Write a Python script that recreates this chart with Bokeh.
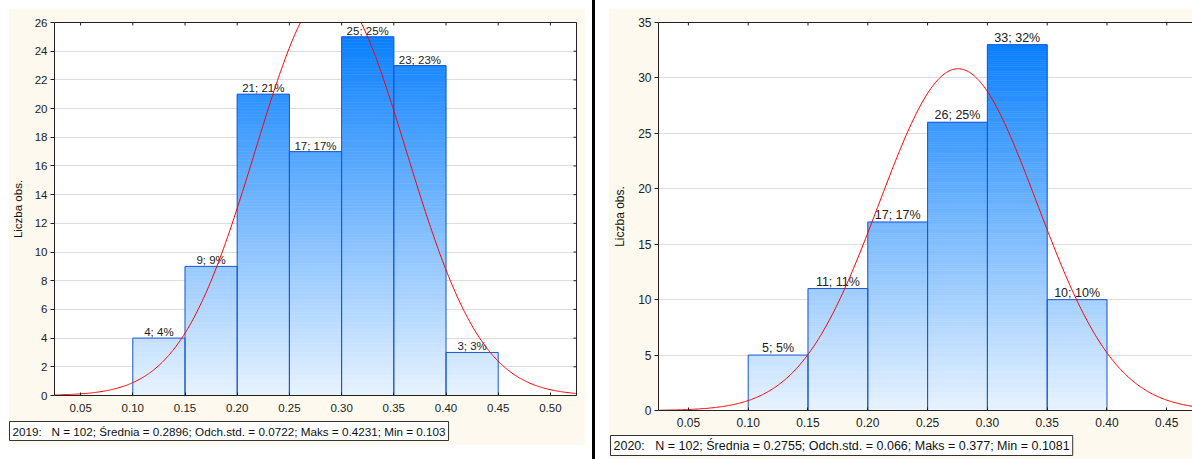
import numpy as np
from bokeh.plotting import figure
from bokeh.models import LinearAxis, FixedTicker, PrintfTickFormatter, Title, Range1d, Div
from bokeh.layouts import row
from bokeh.embed import file_html
from bokeh.resources import INLINE
from bokeh.core.properties import value

# ---------------- data ----------------
x_ticks = [0.05, 0.10, 0.15, 0.20, 0.25, 0.30, 0.35, 0.40, 0.45, 0.50]
bin_width = 0.05

edges_2019 = [0.10, 0.15, 0.20, 0.25, 0.30, 0.35, 0.40, 0.45]
counts_2019 = [4, 9, 21, 17, 25, 23, 3]
n_2019 = 102
mean_2019 = 0.2896
sd_2019 = 0.0722
y_ticks_2019 = [0, 2, 4, 6, 8, 10, 12, 14, 16, 18, 20, 22, 24, 26]
caption_2019 = "2019:\u00a0\u00a0\u00a0N = 102; Średnia = 0.2896; Odch.std. = 0.0722; Maks = 0.4231; Min = 0.103"

edges_2020 = [0.10, 0.15, 0.20, 0.25, 0.30, 0.35, 0.40]
counts_2020 = [5, 11, 17, 26, 33, 10]
n_2020 = 102
mean_2020 = 0.2755
sd_2020 = 0.066
y_ticks_2020 = [0, 5, 10, 15, 20, 25, 30, 35]
caption_2020 = "2020:\u00a0\u00a0\u00a0N = 102; Średnia = 0.2755; Odch.std. = 0.066; Maks = 0.377; Min = 0.1081"

y_label = "Liczba obs."

FONT = "Liberation Sans"
CREAM = "#fdf9ef"
AX = "#222222"
TOP_C = (10, 128, 255)
BOT_C = (232, 243, 255)


def grad_color(f):
    c = [round(b + (t - b) * f) for t, b in zip(TOP_C, BOT_C)]
    return "#%02x%02x%02x" % tuple(c)


def make_panel(edges, counts, n, mean, sd, y_ticks, caption, frame_w, frame_h,
               borders, x_end, y_end, right_axis, cap_offset, cap_standoff, cap_pad,
               x_standoff, margin, fs, fs_bar, fs_cap):
    p = figure(frame_width=frame_w, frame_height=frame_h, output_backend="svg",
               toolbar_location=None,
               x_range=Range1d(0.025, x_end), y_range=Range1d(0, y_end),
               min_border_left=borders[0], min_border_right=borders[1],
               min_border_top=borders[2], min_border_bottom=borders[3],
               x_axis_location=None, y_axis_location=None, margin=margin)
    p.background_fill_color = "white"
    p.border_fill_color = CREAM
    p.outline_line_color = None
    p.xgrid.grid_line_color = None
    p.ygrid.grid_line_color = "#dcdcdc"
    p.ygrid.ticker = FixedTicker(ticks=y_ticks)

    def style(ax):
        ax.axis_line_color = AX
        ax.major_tick_line_color = AX
        ax.minor_tick_line_color = None
        ax.major_label_text_font = FONT
        ax.major_label_text_color = AX
        ax.major_label_text_font_size = fs

    bx = LinearAxis(ticker=FixedTicker(ticks=x_ticks), formatter=PrintfTickFormatter(format="%.2f"))
    style(bx)
    bx.major_tick_in = 3
    bx.major_tick_out = 0
    bx.major_label_standoff = x_standoff
    p.add_layout(bx, "below")

    # frame lines at the top (and right) without tick labels
    tx = LinearAxis(ticker=FixedTicker(ticks=[]))
    style(tx)
    p.add_layout(tx, "above")

    ly = LinearAxis(ticker=FixedTicker(ticks=y_ticks), axis_label=y_label)
    style(ly)
    ly.major_tick_in = 0
    ly.major_tick_out = 4
    ly.major_label_standoff = 3
    ly.axis_label_text_font = FONT
    ly.axis_label_text_font_size = fs
    ly.axis_label_text_font_style = "normal"
    ly.axis_label_text_color = "#111111"
    ly.axis_label_standoff = 8
    p.add_layout(ly, "left")

    if right_axis:
        ry = LinearAxis(ticker=FixedTicker(ticks=[]))
        style(ry)
        p.add_layout(ry, "right")
        p.scatter(x=[x_end] * len(y_ticks), y=y_ticks, marker="dash", size=6,
                  line_color=AX, line_width=1)

    # inner tick marks on the top edge (half of each dash is clipped by the frame)
    p.scatter(x=x_ticks, y=[y_end] * len(x_ticks), marker="dash", angle=np.pi / 2, size=6,
              line_color=AX, line_width=1)

    # gradient-filled bars, built from the counts in thin horizontal strips
    ymax = max(counts)
    step = 0.2
    L, R, B, T, C = [], [], [], [], []
    for i, c in enumerate(counts):
        y = 0.0
        while y < c - 1e-9:
            y2 = min(y + step, c)
            L.append(edges[i]); R.append(edges[i + 1]); B.append(y); T.append(y2)
            C.append(grad_color((y + y2) / 2 / ymax))
            y = y2
    p.quad(left=L, right=R, bottom=B, top=T, fill_color=C, line_color=C, line_width=0.6)
    p.quad(left=edges[:-1], right=edges[1:], bottom=0, top=counts,
           fill_color=None, line_color="#1c58d0", line_width=1)

    centers = [(a + b) / 2 for a, b in zip(edges[:-1], edges[1:])]
    labels = ["%d; %d%%" % (c, round(100.0 * c / n)) for c in counts]
    p.text(x=centers, y=counts, text=labels, text_align="center", text_baseline="bottom",
           text_font=value(FONT), text_font_size=fs_bar, text_color="#222222")

    xs = np.linspace(0.025, 0.53, 500)
    ys = n * bin_width / (sd * np.sqrt(2 * np.pi)) * np.exp(-0.5 * ((xs - mean) / sd) ** 2)
    p.line(xs, ys, line_color="#ff0000", line_width=1)

    cap = Title(text=caption, align="left", offset=cap_offset, standoff=cap_standoff,
                text_font=FONT, text_font_size=fs_cap, text_font_style="normal",
                text_color="#111111", background_fill_color="white",
                border_line_color="#333333", border_line_width=1, padding=cap_pad)
    p.add_layout(cap, "below")
    return p


p1 = make_panel(edges_2019, counts_2019, n_2019, mean_2019, sd_2019, y_ticks_2019, caption_2019,
                frame_w=522, frame_h=373, borders=(46, 9, 14, 47), x_end=0.525, y_end=26,
                right_axis=True, cap_offset=-45, cap_standoff=10, cap_pad=3, x_standoff=8,
                margin=(8, 7, 0, 8), fs="11.5px", fs_bar="11.5px", fs_cap="11.7px")
p2 = make_panel(edges_2020, counts_2020, n_2020, mean_2020, sd_2020, y_ticks_2020, caption_2020,
                frame_w=534, frame_h=388, borders=(50, 0, 14, 49), x_end=0.4715, y_end=35,
                right_axis=False, cap_offset=-48, cap_standoff=8, cap_pad=3, x_standoff=7,
                margin=(8, 0, 0, 0), fs="12px", fs_bar="12.5px", fs_cap="12.5px")

divider = Div(text="", width=3, height=459, margin=(0, 13, 0, 0),
              styles={"background-color": "#000000"})

layout = row(p1, divider, p2)
open("out.html", "w").write(file_html(layout, INLINE))
